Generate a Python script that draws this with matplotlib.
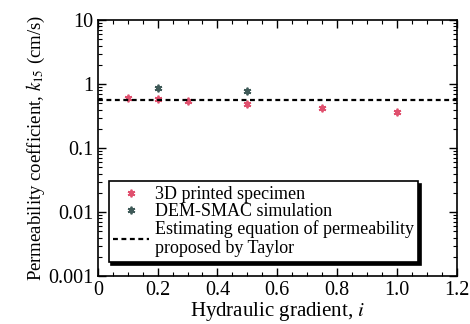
import matplotlib.pyplot as plt
from matplotlib.ticker import LogLocator, NullFormatter, FixedLocator, FixedFormatter, MultipleLocator

plt.rcParams['font.family'] = ['Liberation Serif', 'DejaVu Serif']
plt.rcParams['mathtext.fontset'] = 'stix'

# data
grad_3d = [0.1, 0.2, 0.3, 0.5, 0.75, 1.0]
k_3d = [0.61, 0.59, 0.55, 0.49, 0.42, 0.37]
grad_dem = [0.2, 0.5]
k_dem = [0.88, 0.78]
k_taylor = 0.57
xticks = [0, 0.2, 0.4, 0.6, 0.8, 1.0, 1.2]
xlabels = ['0', '0.2', '0.4', '0.6', '0.8', '1.0', '1.2']
yticks = [0.001, 0.01, 0.1, 1, 10]
ylabels = ['0.001', '0.01', '0.1', '1', '10']

fig = plt.figure(figsize=(4.7, 3.24), dpi=100)
ax = fig.add_axes([0.208, 0.148, 0.764, 0.79])

ax.plot(grad_3d, k_3d, linestyle='none', marker=(6, 2, 0), ms=5.5, mew=1.3,
        color='#e0506e', label='3D printed specimen')
ax.plot(grad_dem, k_dem, linestyle='none', marker=(6, 2, 0), ms=5.5, mew=1.3,
        color='#3f5a58', label='DEM-SMAC simulation')
ax.axhline(k_taylor, color='black', lw=1.6, ls=(0, (2.2, 1.6)),
           label='Estimating equation of permeability\nproposed by Taylor')

ax.set_yscale('log')
ax.set_xlim(0, 1.2)
ax.set_ylim(0.001, 10)
ax.xaxis.set_major_locator(FixedLocator(xticks))
ax.xaxis.set_major_formatter(FixedFormatter(xlabels))
ax.xaxis.set_minor_locator(MultipleLocator(0.05))
ax.yaxis.set_major_locator(FixedLocator(yticks))
ax.yaxis.set_major_formatter(FixedFormatter(ylabels))
ax.yaxis.set_minor_locator(LogLocator(base=10, subs=range(2, 10)))
ax.yaxis.set_minor_formatter(NullFormatter())

ax.tick_params(which='both', direction='in', top=True, right=True, labelsize=14.5)
ax.tick_params(axis='y', pad=3)
ax.tick_params(axis='x', pad=3.5)
ax.tick_params(which='major', length=6, width=1)
ax.tick_params(which='minor', length=3, width=0.8)
for s in ax.spines.values():
    s.set_linewidth(1.2)

ax.set_xlabel('Hydraulic gradient, $i$', fontsize=15, labelpad=0)
ax.set_ylabel('Permeability coefficient, $k_{15}$ (cm/s)', fontsize=13.5, labelpad=1)

leg = ax.legend(loc='lower left', bbox_to_anchor=(0.03, 0.055), borderaxespad=0,
                fontsize=13, fancybox=False, edgecolor='black', framealpha=1,
                shadow={'color': 'black', 'alpha': 1}, handlelength=2.0,
                handletextpad=0.3, labelspacing=0.0, borderpad=0.25)
leg.get_frame().set_linewidth(1.2)

fig.savefig('out.png', dpi=100)
